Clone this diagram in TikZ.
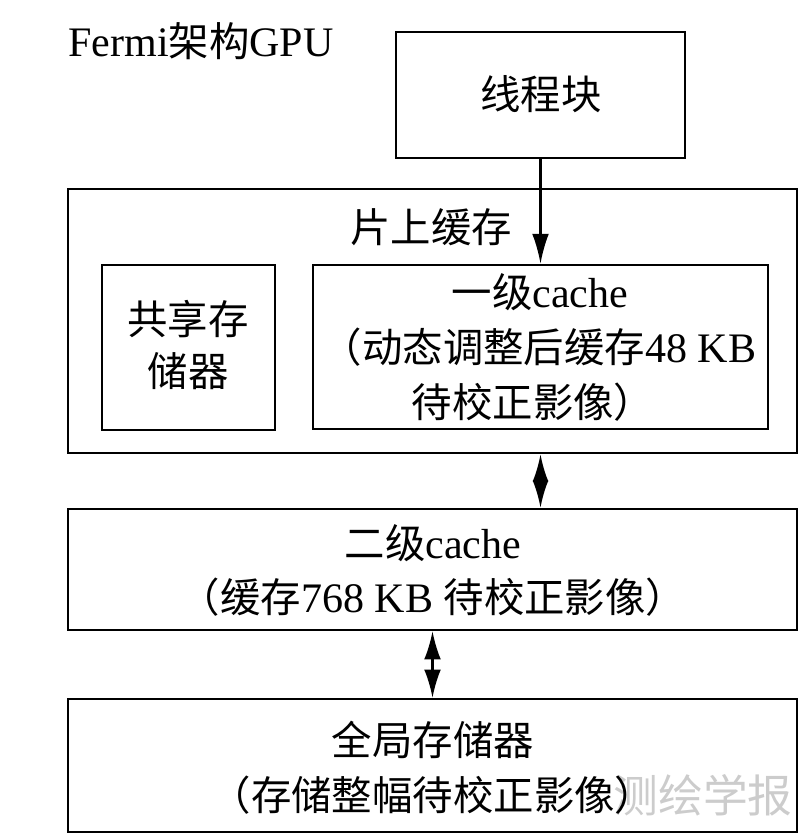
\documentclass[tikz,border=0pt]{standalone}
\usepackage{fontspec}
\setmainfont[Scale=1.04]{Liberation Serif}
\newfontfamily\cjk{Noto Sans CJK SC}
\usetikzlibrary{arrows.meta,fit}
\begin{document}
\begin{tikzpicture}[x=0.02cm,y=-0.02cm,
  box/.style={draw, line width=1.4pt, inner sep=0pt},
  txt/.style={font=\fontsize{23}{28}\selectfont, inner sep=0pt, anchor=base},
  wm/.style={font=\cjk\fontsize{25.5}{30}\selectfont, text=black!20, inner sep=0pt, anchor=base},
  conn/.style={line width=1.2pt},
  tipA/.style={-{Latex[length=17pt,width=9.5pt]}},
  tipB/.style={{Latex[length=15.5pt,width=9pt]}-{Latex[length=15.5pt,width=9pt]}},
  tipC/.style={{Latex[length=16pt,width=9.5pt]}-{Latex[length=16pt,width=9.5pt]}}]
\useasboundingbox (0,0) rectangle (800,834);

% watermark
\node[wm] (wmark) at (703,812) {测绘学报};

% title
\node[txt, anchor=base west] (title) at (68,57) {Fermi{\cjk 架构}GPU};

% boxes
\node[box, fit={(396,32) (685,158)}] (thread) {};
\node[box, fit={(68,189) (797,453)}] (onchip) {};
\node[box, fit={(102,265) (275,430)}] (shared) {};
\node[box, fit={(313,265) (768,429)}] (l1) {};
\node[box, fit={(68,509) (797,630)}] (l2) {};
\node[box, fit={(68,699) (797,832)}] (global) {};

% texts
\node[txt] (threadT) at (541,110) {\cjk 线程块};
\node[txt] (onchipT) at (431,243) {\cjk 片上缓存};
\node[txt] (sharedT1) at (188,334) {\cjk 共享存};
\node[txt] (sharedT2) at (188,386) {\cjk 储器};
\node[txt] (l1T1) at (540,307) {{\cjk 一级}cache};
\node[txt] (l1T2) at (539,362) {{\cjk （动态调整后缓存}48 KB};
\node[txt] (l1T3) at (533,417) {\cjk 待校正影像）};
\node[txt] (l2T1) at (433,558) {{\cjk 二级}cache};
\node[txt] (l2T2) at (433,612) {{\cjk （缓存}768 KB {\cjk 待校正影像）}};
\node[txt] (globalT1) at (433,755) {\cjk 全局存储器};
\node[txt] (globalT2) at (433,810) {\cjk （存储整幅待校正影像）};

% connectors
\draw[conn, tipA] (thread.south) -- (l1.north);
\draw[conn, tipB] (l1.south |- onchip.south) -- (l1.south |- l2.north);
\draw[conn, tipC] (l2.south) -- (global.north);
\end{tikzpicture}
\end{document}
